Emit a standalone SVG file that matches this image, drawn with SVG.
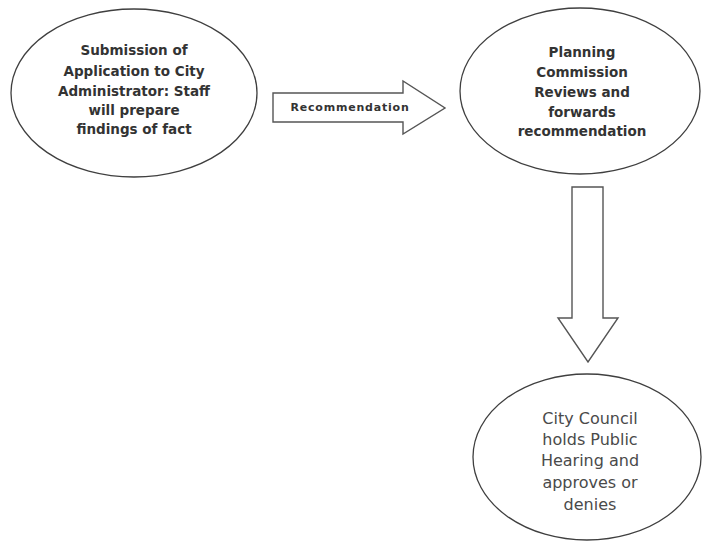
<svg xmlns="http://www.w3.org/2000/svg" width="702" height="541" viewBox="0 0 702 541">
<style>
.node ellipse{fill:#fff;stroke:#3f3f3f;stroke-width:1.3}
.arr{fill:#fff;stroke:#555;stroke-width:1.4;stroke-linejoin:miter}
text{font-family:"DejaVu Sans","Liberation Sans",sans-serif;fill:#333;text-anchor:middle}
.t{font-size:13.5px;font-weight:bold}
.t3{font-size:16px;fill:#4a4a4a}
.lbl{font-size:11px;font-weight:bold;letter-spacing:0.8px}
</style>
<rect width="702" height="541" fill="#fff"/>
<g id="n1" class="node">
<ellipse cx="134" cy="93" rx="123" ry="84"/>
<text class="t" x="134" y="55">Submission of</text>
<text class="t" x="134" y="76">Application to City</text>
<text class="t" x="134" y="96">Administrator: Staff</text>
<text class="t" x="134" y="115">will prepare</text>
<text class="t" x="134" y="134">findings of fact</text>
</g>
<g id="n2" class="node">
<ellipse cx="580" cy="91" rx="120" ry="83"/>
<text class="t" x="582" y="57">Planning</text>
<text class="t" x="582" y="77">Commission</text>
<text class="t" x="582" y="97">Reviews and</text>
<text class="t" x="582" y="117">forwards</text>
<text class="t" x="582" y="136">recommendation</text>
</g>
<g id="n3" class="node">
<ellipse cx="587" cy="457" rx="114" ry="83"/>
<text class="t3" x="590" y="424">City Council</text>
<text class="t3" x="590" y="445">holds Public</text>
<text class="t3" x="590" y="466">Hearing and</text>
<text class="t3" x="590" y="488">approves or</text>
<text class="t3" x="590" y="510">denies</text>
</g>
<g id="connectors">
<polygon class="arr" points="273,93 403,93 403,81 445,108 403,134 403,122 273,122"/>
<text class="lbl" x="350" y="111">Recommendation</text>
<polygon class="arr" points="572,187 603,187 603,318 618,318 588,362 558,318 572,318"/>
</g>
</svg>
